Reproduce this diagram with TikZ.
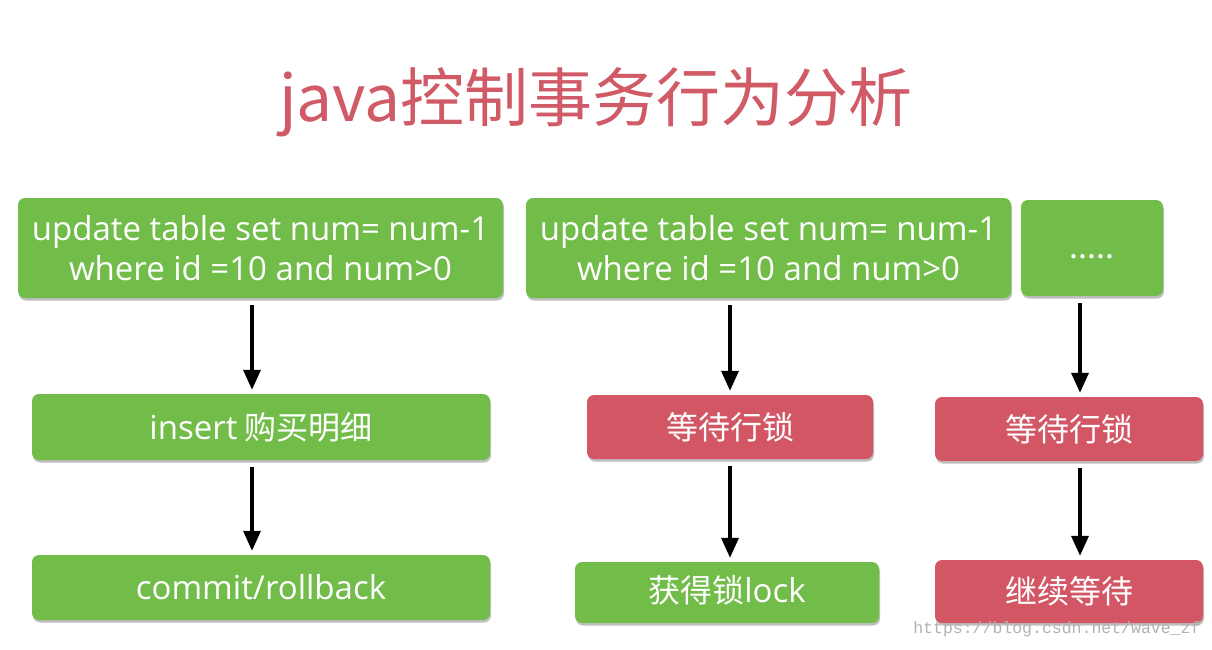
\documentclass[tikz,border=0pt]{standalone}
\usepackage{fontspec}
\setmainfont{Noto Sans CJK SC}
\newfontfamily\latinfont{Open Sans}
\newcommand\lat[1]{{\latinfont\fontsize{33}{40}\selectfont #1}}
\newfontfamily\wmfont{Liberation Mono}
\usetikzlibrary{arrows.meta,shadows}
\definecolor{boxgreen}{HTML}{72BD4A}
\definecolor{boxred}{HTML}{D25664}
\definecolor{titlered}{HTML}{D05A66}
\tikzset{
  box/.style={rounded corners=7pt, text=white, font=\fontsize{32}{40}\selectfont,
    align=center, inner sep=0pt,
    drop shadow={shadow xshift=1pt, shadow yshift=-2.5pt, opacity=0.25, fill=black}},
  gbox/.style={box, fill=boxgreen},
  rbox/.style={box, fill=boxred},
  flow/.style={line width=3.5pt, -{Triangle[width=17pt,length=20pt]}, shorten <=7pt, shorten >=4pt}
}
\begin{document}
\begin{tikzpicture}[x=1pt,y=-1pt]
\useasboundingbox[fill=white] (0,0) rectangle (1212,649);
\node[text=titlered, font=\fontsize{64}{70}\selectfont] (title) at (596,102) {java控制事务行为分析};
\node[gbox, minimum width=485pt, minimum height=100pt, font=\latinfont\fontsize{33}{40}\selectfont] (b1) at (260.5,248) {update table set num= num-1\\where id =10 and num>0};
\node[gbox, minimum width=485pt, minimum height=100pt, font=\latinfont\fontsize{33}{40}\selectfont] (b2) at (768.5,248) {update table set num= num-1\\where id =10 and num>0};
\node[gbox, minimum width=142pt, minimum height=96pt] (b3) at (1092,248) {\raisebox{-22pt}{.....}};
\node[gbox, minimum width=458pt, minimum height=66pt] (b4) at (261,427) {\lat{insert} 购买明细};
\node[rbox, minimum width=286pt, minimum height=64pt] (b5) at (730,427) {等待行锁};
\node[rbox, minimum width=268pt, minimum height=64pt] (b6) at (1069,429) {等待行锁};
\node[gbox, minimum width=458pt, minimum height=65pt] (b7) at (261,587.5) {\lat{commit/rollback}};
\node[gbox, minimum width=304pt, minimum height=61pt] (b8) at (727,592.5) {\raisebox{8pt}{获得锁\lat{lock}}};
\node[rbox, minimum width=268pt, minimum height=63pt] (b9) at (1069,591.5) {继续等待};
\coordinate (ax1) at (252,0);
\coordinate (ax2) at (730,0);
\coordinate (ax3) at (1080,0);
\draw[flow] (b1.south -| ax1) -- (b4.north -| ax1);
\draw[flow] (b4.south -| ax1) -- (b7.north -| ax1);
\draw[flow] (b2.south -| ax2) -- (b5.north -| ax2);
\draw[flow] (b5.south -| ax2) -- (b8.north -| ax2);
\draw[flow] (b3.south -| ax3) -- (b6.north -| ax3);
\draw[flow] (b6.south -| ax3) -- (b9.north -| ax3);
\node[text=black!30, font=\wmfont\fontsize{16.5}{18}\selectfont, anchor=east] (wm) at (1204,629) {https://blog.csdn.net/wave\_zf};
\end{tikzpicture}
\end{document}
